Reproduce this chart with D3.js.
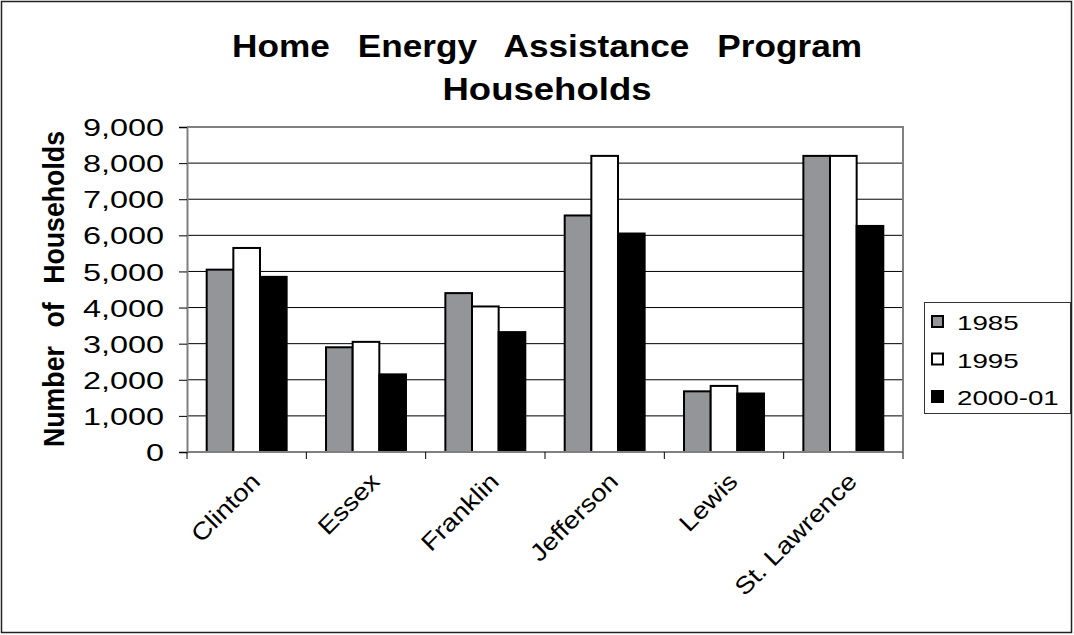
<!DOCTYPE html>
<html>
<head>
<meta charset="utf-8">
<script src="https://cdn.jsdelivr.net/npm/d3@7"></script>
<style>
  body { margin: 0; background: #fff; }
  text { font-family: Arial, "Liberation Sans", sans-serif; fill: #000; }
</style>
</head>
<body>
<div class="chart"></div>
<script>
var counties = ["Clinton", "Essex", "Franklin", "Jefferson", "Lewis", "St. Lawrence"];
var years = ["1985", "1995", "2000-01"];
var values1985 = [5050, 2900, 4400, 6550, 1680, 8200];
var values1995 = [5650, 3050, 4030, 8200, 1830, 8200];
var values2000 = [4850, 2150, 3320, 6050, 1620, 6260];
var yTicks = [0, 1000, 2000, 3000, 4000, 5000, 6000, 7000, 8000, 9000];
var colors = ["#949599", "#ffffff", "#000000"];

var svgWidth = 1074;
var svgHeight = 635;

var margin = { top: 127, right: 171, bottom: 183, left: 187 };
var width = svgWidth - margin.left - margin.right;
var height = svgHeight - margin.top - margin.bottom;

var svg = d3.select(".chart")
  .append("svg")
  .attr("width", svgWidth)
  .attr("height", svgHeight);

// outer border
svg.append("rect")
  .attr("x", 1.5).attr("y", 1.5)
  .attr("width", svgWidth - 4).attr("height", svgHeight - 4)
  .attr("fill", "#fff")
  .attr("stroke", "#222")
  .attr("stroke-width", 1.5);

// stretch text horizontally along its baseline
function stretch(sel, sx) {
  sel.each(function() {
    var len = this.getComputedTextLength();
    d3.select(this)
      .attr("textLength", len * sx)
      .attr("lengthAdjust", "spacingAndGlyphs");
  });
}

var chartGroup = svg.append("g")
  .attr("transform", `translate(${margin.left}, ${margin.top})`);

var x0 = d3.scaleBand().domain(counties).range([0, width]);
var x1 = d3.scaleBand().domain(years)
  .range([x0.bandwidth() * 0.165, x0.bandwidth() * 0.835]);
var y = d3.scaleLinear().domain([0, 9000]).range([height, 0]);

// gridlines
chartGroup.append("g")
  .selectAll("line")
  .data(yTicks.filter(d => d > 0 && d < 9000))
  .enter()
  .append("line")
  .attr("x1", 0).attr("x2", width)
  .attr("y1", d => y(d)).attr("y2", d => y(d))
  .attr("stroke", "#000")
  .attr("stroke-width", 1);

// plot frame (top + right)
chartGroup.append("path")
  .attr("d", `M0,${y(9000)}H${width}V${height}`)
  .attr("fill", "none")
  .attr("stroke", "#808080")
  .attr("stroke-width", 2);

var data = counties.map(function(c, i) {
  return { county: c, vals: [values1985[i], values1995[i], values2000[i]] };
});

var groups = chartGroup.selectAll(".county")
  .data(data)
  .enter()
  .append("g")
  .attr("transform", d => `translate(${x0(d.county)},0)`);

groups.selectAll("rect")
  .data(d => d.vals.map((v, j) => ({ year: years[j], value: v, j: j })))
  .enter()
  .append("rect")
  .attr("x", d => x1(d.year))
  .attr("y", d => y(d.value))
  .attr("width", x1.bandwidth())
  .attr("height", d => height - y(d.value))
  .attr("fill", d => colors[d.j])
  .attr("stroke", "#000")
  .attr("stroke-width", 2);

// y axis
var leftAxis = d3.axisLeft(y)
  .tickValues(yTicks)
  .tickSize(8)
  .tickFormat(d3.format(","));
var yAxis = chartGroup.append("g").call(leftAxis);
yAxis.select(".domain").attr("stroke", "#808080").attr("stroke-width", 2);
yAxis.selectAll(".tick line").attr("stroke", "#000");
yAxis.selectAll(".tick text")
  .attr("x", -23)
  .attr("dy", "0.36em")
  .style("font-size", "24px");
stretch(yAxis.selectAll(".tick text"), 1.35);

// x axis: ticks at category boundaries
var xAxis = chartGroup.append("g")
  .attr("transform", `translate(0, ${height})`);
xAxis.append("line")
  .attr("x1", 0).attr("x2", width)
  .attr("stroke", "#808080").attr("stroke-width", 2);
xAxis.selectAll(".xtick")
  .data(counties.concat(["end"]))
  .enter()
  .append("line")
  .attr("x1", (d, i) => i * x0.bandwidth())
  .attr("x2", (d, i) => i * x0.bandwidth())
  .attr("y1", 0).attr("y2", 7)
  .attr("stroke", "#000");

var xLabels = xAxis.selectAll(".xlabel")
  .data(counties)
  .enter()
  .append("text")
  .attr("text-anchor", "end")
  .attr("transform", d => `translate(${x0(d) + x0.bandwidth() / 2 + 15}, 31) rotate(-45)`)
  .style("font-size", "24px")
  .text(d => d);
stretch(xLabels, 1.15);

// y axis title
var yTitle = svg.append("text")
  .attr("text-anchor", "middle")
  .attr("transform", "translate(64, 289) scale(1.22, 1) rotate(-90)")
  .style("font-size", "24px")
  .style("font-weight", "bold")
  .style("word-spacing", "10px")
  .text("Number of Households");
yTitle.attr("textLength", 316).attr("lengthAdjust", "spacingAndGlyphs");

// title
var titleLines = ["Home Energy Assistance Program", "Households"];
var titleLens = [630, 209];
svg.selectAll(".title")
  .data(titleLines)
  .enter()
  .append("text")
  .attr("x", 547)
  .attr("y", (d, i) => 57 + i * 43)
  .attr("text-anchor", "middle")
  .style("font-size", "31px")
  .style("font-weight", "bold")
  .style("word-spacing", "16px")
  .attr("textLength", (d, i) => titleLens[i])
  .attr("lengthAdjust", "spacingAndGlyphs")
  .text(d => d);

// legend
var legend = svg.append("g").attr("transform", "translate(924, 302)");
legend.append("rect")
  .attr("x", 0.5).attr("y", 0.5)
  .attr("width", 146).attr("height", 111)
  .attr("fill", "#fff")
  .attr("stroke", "#333")
  .attr("stroke-width", 1);
var items = legend.selectAll(".item")
  .data(years)
  .enter()
  .append("g")
  .attr("transform", (d, i) => `translate(0, ${20 + i * 37.5})`);
items.append("rect")
  .attr("x", 8).attr("y", -6)
  .attr("width", 11).attr("height", 11)
  .attr("fill", (d, i) => colors[i])
  .attr("stroke", "#000")
  .attr("stroke-width", 2);
var legendText = items.append("text")
  .attr("x", 33)
  .attr("y", 8)
  .style("font-size", "21px")
  .text(d => d);
stretch(legendText, 1.32);
</script>
</body>
</html>
